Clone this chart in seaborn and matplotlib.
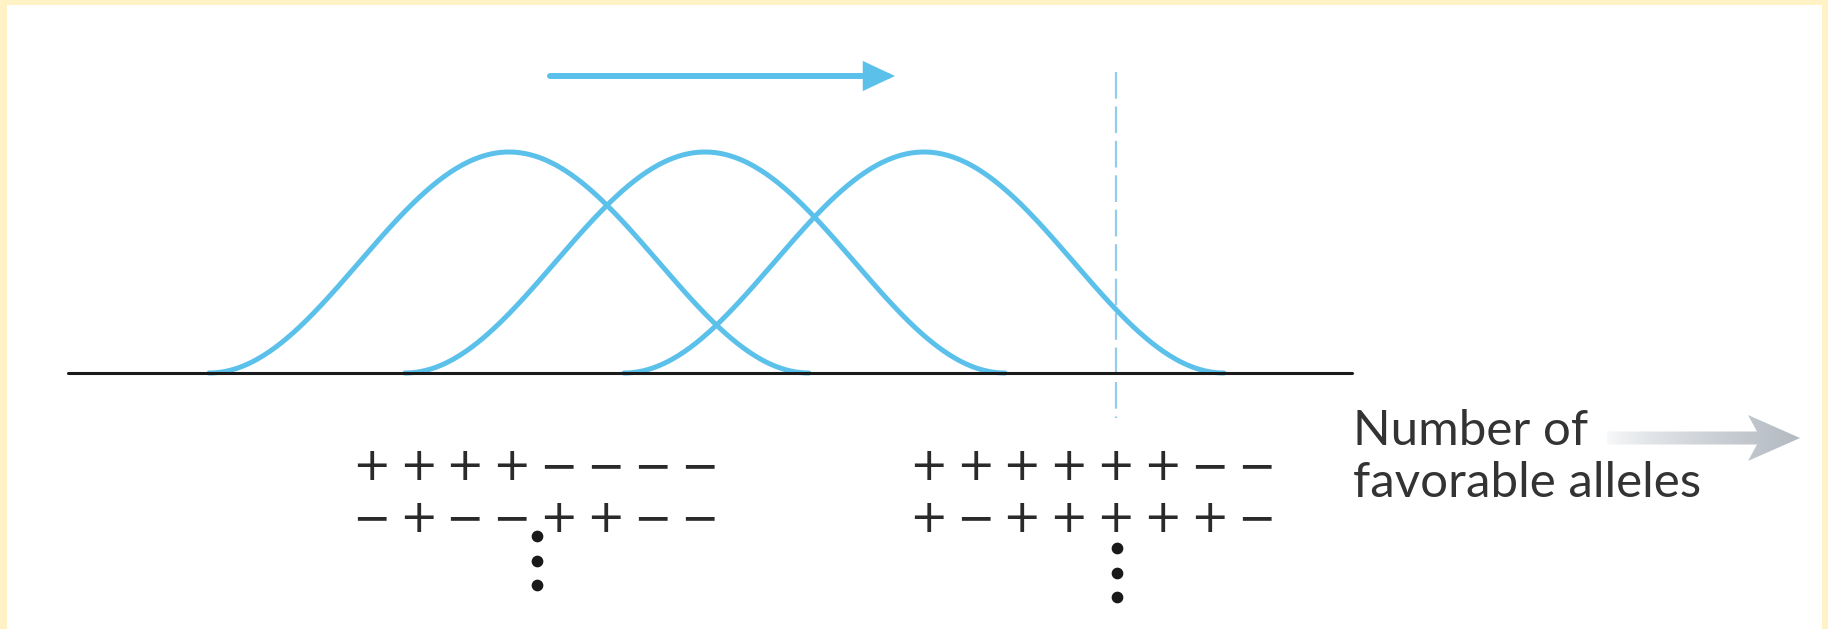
import numpy as np
import pandas as pd
import matplotlib
matplotlib.use("Agg")
import matplotlib.pyplot as plt
import seaborn as sns
from matplotlib.patches import Rectangle, Polygon
from matplotlib.colors import LinearSegmentedColormap

# ---- data (figure drawn in pixel-like units) ----
W, H = 1828, 629
curve_peaks = [509, 705, 924]          # centre of each distribution
curve_half_width = 300                 # half-width of each bell
curve_height = 221                     # peak height above the baseline
baseline_y = 373
baseline_x = [68, 1352]
threshold_x = 1116
threshold_y = [72, 418]
shift_arrow_x = [550, 895]
shift_arrow_y = 76

left_row1 = list("++++−−−−")
left_row2 = list("−+−−++−−")
right_row1 = list("++++++−−")
right_row2 = list("+−+++++−")
left_start, right_start, char_step = 371, 928, 46.9
row_y = [463, 515]
left_dots_y = [536, 561, 585]
left_dots_x = 537
right_dots_y = [548, 573, 597]
right_dots_x = 1117

axis_label = ["Number of", "favorable alleles"]

BLUE = "#5BC1EB"
DASH_BLUE = "#93CCEA"
BORDER = "#FFF3C6"

sns.set_style("white")
fig = plt.figure(figsize=(18.28, 6.29), dpi=100)
fig.patch.set_facecolor(BORDER)
ax = fig.add_axes([0, 0, 1, 1])
ax.add_patch(Rectangle((7, 5), W - 13, H, facecolor="white",
                       edgecolor="none", zorder=0))

# ---- bell curves ----
rows = []
for i, mu in enumerate(curve_peaks):
    xs = np.linspace(mu - curve_half_width, mu + curve_half_width, 300)
    shape = 0.5 * (1 + np.cos(np.pi * (xs - mu) / curve_half_width))
    for x, s in zip(xs, shape):
        rows.append({"x": x, "y": baseline_y - curve_height * s, "curve": i})
df = pd.DataFrame(rows)
sns.lineplot(data=df, x="x", y="y", units="curve", estimator=None,
             color=BLUE, lw=3.6, ax=ax, legend=False, zorder=3,
             solid_capstyle="round")

# baseline
ax.plot(baseline_x, [baseline_y, baseline_y], color="#1a1a1a", lw=2.2, zorder=4)

# threshold dashed line
ax.plot([threshold_x, threshold_x], threshold_y, color=DASH_BLUE, lw=1.6,
        dashes=(12, 3.5), zorder=2)

# shift arrow
ax.annotate("", xy=(shift_arrow_x[1], shift_arrow_y),
            xytext=(shift_arrow_x[0], shift_arrow_y),
            arrowprops=dict(arrowstyle="-|>,head_length=1.6,head_width=0.75",
                            mutation_scale=10, lw=4.3, color=BLUE,
                            shrinkA=0, shrinkB=0, joinstyle="miter",
                            capstyle="round"))

# genotype rows
def put_row(chars, x0, y):
    for k, c in enumerate(chars):
        ax.text(x0 + k * char_step, y, c, fontsize=33, family="DejaVu Sans",
                ha="center", va="center_baseline", color="#2a2a2a", zorder=5)

put_row(left_row1, left_start, row_y[0])
put_row(left_row2, left_start, row_y[1])
put_row(right_row1, right_start, row_y[0])
put_row(right_row2, right_start, row_y[1])

ax.scatter([left_dots_x] * 3, left_dots_y, s=55, color="#1a1a1a", zorder=5)
ax.scatter([right_dots_x] * 3, right_dots_y, s=55, color="#1a1a1a", zorder=5)

# axis label
ax.text(1353, 445, axis_label[0], fontsize=35.5, family="Lato",
        color="#333333", ha="left", va="baseline")
ax.text(1353, 497, axis_label[1], fontsize=35.5, family="Lato",
        color="#333333", ha="left", va="baseline")

# gradient grey arrow
ay = 438
verts = [(1607, ay - 6.5), (1757, ay - 6.5), (1748, ay - 23), (1800, ay),
         (1748, ay + 23), (1757, ay + 6.5), (1607, ay + 6.5)]
poly = Polygon(verts, closed=True, facecolor="none", edgecolor="none")
ax.add_patch(poly)
grad = np.linspace(0, 1, 256)[None, :] ** 0.7
cmap = LinearSegmentedColormap.from_list("g", ["#FFFFFF", "#B3BAC2"])
im = ax.imshow(grad, extent=(1600, 1800, ay + 24, ay - 24), cmap=cmap,
               aspect="auto", zorder=3, interpolation="bilinear")
im.set_clip_path(poly)

ax.set_xlim(0, W)
ax.set_ylim(H, 0)
ax.axis("off")
fig.savefig("out.png", dpi=100, facecolor=fig.get_facecolor())
